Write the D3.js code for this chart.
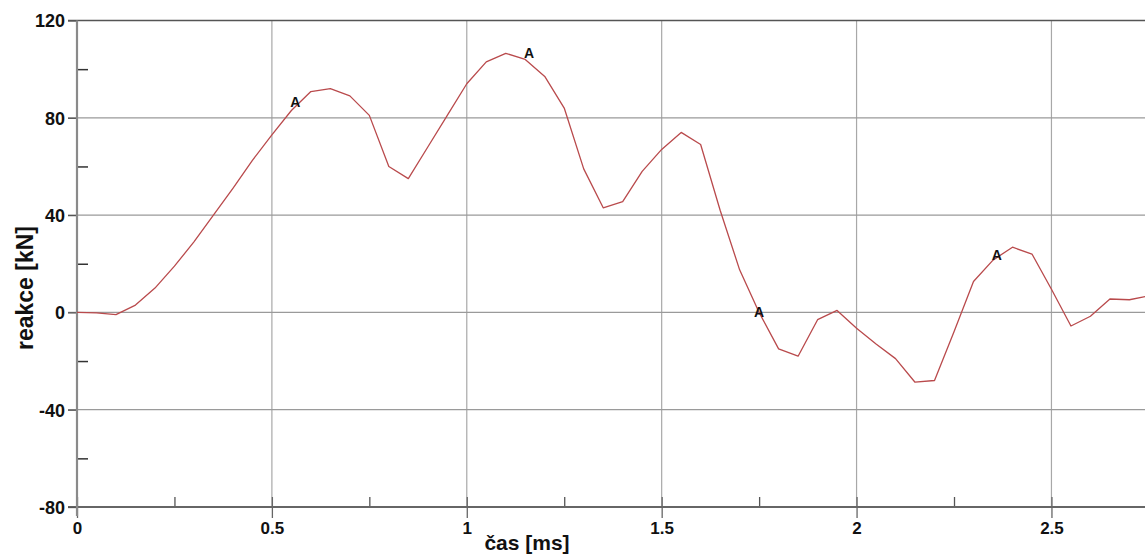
<!DOCTYPE html>
<html>
<head>
<meta charset="utf-8">
<script src="https://cdnjs.cloudflare.com/ajax/libs/d3/7.8.5/d3.min.js"></script>
<style>
  body { margin: 0; background: #fff; }
  svg { display: block; }
  text { font-family: "Liberation Sans", Arial, sans-serif; font-weight: bold; fill: #111; }
</style>
</head>
<body>
<svg id="chart"></svg>
<script>
////////////////////////////
//  chart data
///////////////////////////
var times = [0, 0.05, 0.1, 0.15, 0.2, 0.25, 0.3, 0.35, 0.4, 0.45,
             0.5, 0.55, 0.6, 0.65, 0.7, 0.75, 0.8, 0.85, 0.9, 0.95,
             1, 1.05, 1.1, 1.15, 1.2, 1.25, 1.3, 1.35, 1.4, 1.45,
             1.5, 1.55, 1.6, 1.65, 1.7, 1.75, 1.8, 1.85, 1.9, 1.95,
             2, 2.05, 2.1, 2.15, 2.2, 2.25, 2.3, 2.35, 2.4, 2.45,
             2.5, 2.55, 2.6, 2.65, 2.7, 2.75];
var reactions = [0, -0.2, -0.9, 3, 10, 19, 29, 40, 51, 62.5,
                 73, 83, 90.8, 92, 89, 81, 60, 55, 68, 81,
                 94, 103, 106.5, 104, 97, 84, 59, 43, 45.5, 58,
                 67, 74, 69, 42, 17.5, 0, -15, -18, -3, 0.8,
                 -6.5, -13, -19, -28.7, -28, -8, 12.7, 21.5, 26.8, 24,
                 9.5, -5.6, -1.6, 5.5, 5.2, 6.8];
var markTimes = [0.56, 1.16, 1.75, 2.36];
var markValues = [86.5, 106.5, 0, 23.5];
var markLabel = 'A';

var xMajor = [0, 0.5, 1, 1.5, 2, 2.5];
var xMinor = [0.25, 0.75, 1.25, 1.75, 2.25, 2.75];
var yMajor = [-80, -40, 0, 40, 80, 120];
var yMinor = [-60, -20, 20, 60, 100];
var xTitle = 'čas [ms]';
var yTitle = 'reakce [kN]';

///////////////////
// layout
//////////////////
var width = 1145;
var height = 555;
var plotLeft = 77, plotRight = 1145, plotTop = 20.5, plotBottom = 507;

var svg = d3.select('#chart')
    .attr('width', width)
    .attr('height', height);

var xScale = d3.scaleLinear().domain([0, 2.74]).range([plotLeft, plotRight]);
var yScale = d3.scaleLinear().domain([-80, 120]).range([plotBottom, plotTop]);

//// grid lines
svg.append('g')
    .selectAll('line')
    .data(xMajor.filter(d => d > 0))
    .enter()
    .append('line')
      .attr('x1', d => xScale(d)).attr('x2', d => xScale(d))
      .attr('y1', plotTop).attr('y2', plotBottom)
      .attr('stroke', '#a8a8a8')
      .attr('stroke-width', 1.2);

svg.append('g')
    .selectAll('line')
    .data(yMajor.filter(d => d > -80 && d < 120))
    .enter()
    .append('line')
      .attr('x1', plotLeft - 9).attr('x2', plotRight)
      .attr('y1', d => yScale(d)).attr('y2', d => yScale(d))
      .attr('stroke', '#9a9a9a')
      .attr('stroke-width', 1.2);

//// top border (120 line)
svg.append('line')
    .attr('x1', plotLeft - 9).attr('x2', plotRight)
    .attr('y1', yScale(120)).attr('y2', yScale(120))
    .attr('stroke', '#555')
    .attr('stroke-width', 1.5);

//// x axis
var xAxis = svg.append('g')
    .attr('transform', `translate(0,${plotBottom})`)
    .call(d3.axisBottom(xScale).tickValues(xMajor).tickSize(11).tickPadding(4)
      .tickFormat(d => String(d)));
xAxis.select('.domain').remove();
xAxis.selectAll('.tick line').attr('stroke', '#666').attr('stroke-width', 1.3).attr('y1', -10);
xAxis.selectAll('.tick text').attr('font-size', 17).attr('fill', '#111');

svg.append('g')
    .attr('transform', `translate(0,${plotBottom})`)
    .call(d3.axisBottom(xScale).tickValues(xMinor.filter(d => d < 2.74)).tickSize(-10).tickFormat(''))
    .call(g => g.select('.domain').remove())
    .selectAll('.tick line').attr('stroke', '#555').attr('stroke-width', 1.3);

svg.append('line')
    .attr('x1', plotLeft - 9).attr('x2', plotRight)
    .attr('y1', plotBottom).attr('y2', plotBottom)
    .attr('stroke', '#666')
    .attr('stroke-width', 1.8);

//// y axis
var yAxis = svg.append('g')
    .attr('transform', `translate(${plotLeft},0)`)
    .call(d3.axisLeft(yScale).tickValues(yMajor).tickSize(9).tickPadding(3)
      .tickFormat(d => String(d)));
yAxis.select('.domain').remove();
yAxis.selectAll('.tick line').attr('stroke', '#555').attr('stroke-width', 1.3);
yAxis.selectAll('.tick text').attr('font-size', 18).attr('fill', '#111').attr('dy', '0.36em');

svg.append('g')
    .attr('transform', `translate(${plotLeft},0)`)
    .call(d3.axisLeft(yScale).tickValues(yMinor).tickSize(-11).tickFormat(''))
    .call(g => g.select('.domain').remove())
    .selectAll('.tick line').attr('stroke', '#333').attr('stroke-width', 1.5);

svg.append('line')
    .attr('x1', plotLeft).attr('x2', plotLeft)
    .attr('y1', plotTop).attr('y2', plotBottom + 9)
    .attr('stroke', '#8a8a8a')
    .attr('stroke-width', 2.2);

//// reaction curve
var points = times.map((t, i) => [t, reactions[i]]);
var line = d3.line()
    .x(d => xScale(d[0]))
    .y(d => yScale(d[1]));

svg.append('defs').append('clipPath').attr('id', 'plot')
  .append('rect').attr('x', plotLeft).attr('y', 0).attr('width', plotRight - plotLeft).attr('height', height);

svg.append('path')
    .datum(points)
    .attr('clip-path', 'url(#plot)')
    .attr('fill', 'none')
    .attr('stroke', '#b94a4c')
    .attr('stroke-width', 1.3)
    .attr('stroke-linejoin', 'round')
    .attr('d', line);

//// A markers
svg.append('g')
    .selectAll('text')
    .data(markTimes)
    .enter()
    .append('text')
      .attr('x', d => xScale(d))
      .attr('y', (d, i) => yScale(markValues[i]))
      .attr('dy', '0.36em')
      .attr('text-anchor', 'middle')
      .attr('font-size', 14)
      .text(markLabel);

//// titles
svg.append('text')
    .attr('x', 527)
    .attr('y', 550)
    .attr('text-anchor', 'middle')
    .attr('font-size', 21)
    .text(xTitle);

svg.append('text')
    .attr('transform', 'translate(33,288) rotate(-90)')
    .attr('text-anchor', 'middle')
    .attr('font-size', 23)
    .text(yTitle);
</script>
</body>
</html>
